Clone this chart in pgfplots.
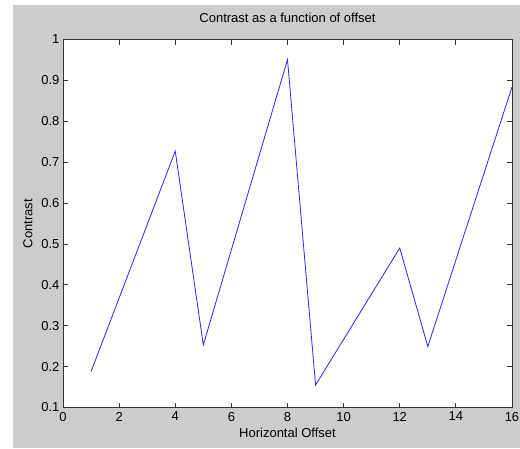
\documentclass[border=0pt]{standalone}
\usepackage{pgfplots}
\pgfplotsset{compat=1.18}
\usepackage{fontspec}
\setmainfont{Liberation Sans}
\definecolor{figgray}{RGB}{204,204,204}
\definecolor{lineblue}{RGB}{40,40,235}
\begin{document}
\begin{tikzpicture}[font=\fontsize{13}{15}\selectfont]
\path[use as bounding box] (-63pt,-40.5pt) rectangle (457pt,407.5pt);
\fill[figgray] (-50pt,-40.5pt) rectangle (457pt,402.5pt);
\begin{axis}[
  at={(0pt,0pt)}, anchor=south west,
  scale only axis,
  width=449pt, height=368pt,
  xmin=0, xmax=16, ymin=0.1, ymax=1,
  xtick={0,2,...,16},
  ytick={0.1,0.2,...,1.0},
  yticklabels={0.1,0.2,0.3,0.4,0.5,0.6,0.7,0.8,0.9,1},
  xticklabels={0,2,4,6,8,10,12,14,16},
  tick pos=both, tick align=inside,
  major tick length=5pt,
  axis line style={black!80, line width=0.8pt},
  tick style={black!80, line width=0.8pt},
  axis background/.style={fill=white},
  /pgf/number format/assume math mode=true,
  tick label style={font=\fontsize{13}{15}\selectfont},
  xticklabel style={yshift=-1pt},
  title={Contrast as a function of offset},
  title style={at={(axis description cs:0.5,1)}, anchor=center, yshift=16pt},
  xlabel={Horizontal Offset},
  xlabel style={at={(axis description cs:0.5,0)}, anchor=center, yshift=-25.5pt},
  ylabel={Contrast},
  ylabel style={at={(axis description cs:0,0.5)}, anchor=center, yshift=35pt},
  clip=false,
]
\addplot[lineblue, line width=0.8pt] coordinates {
 (1,0.188) (4,0.727) (5,0.253) (8,0.951) (9,0.155) (12,0.490) (13,0.249) (16,0.884)
};
\end{axis}
\end{tikzpicture}
\end{document}
